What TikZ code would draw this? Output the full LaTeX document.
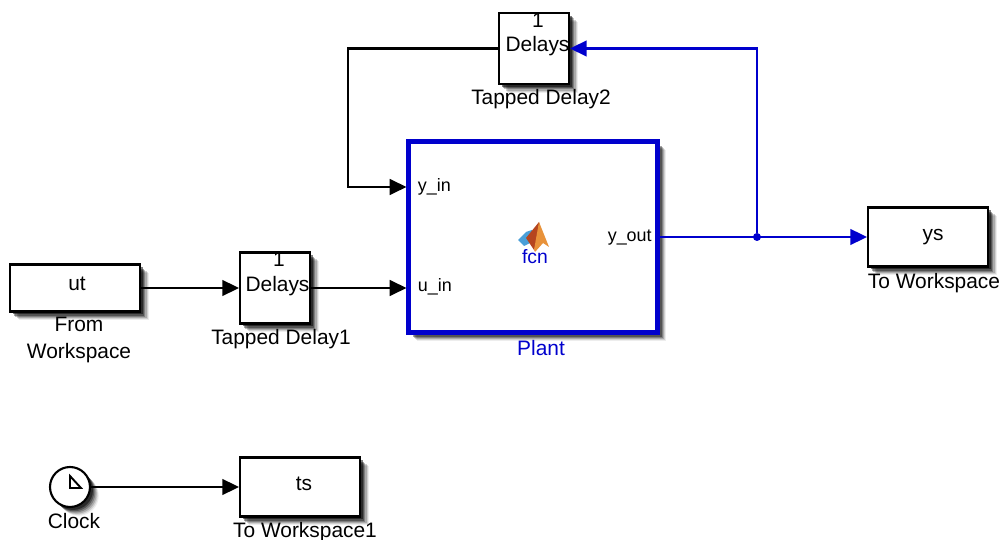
\documentclass[tikz,border=0pt]{standalone}
\usepackage{fontspec}
\setmainfont{Liberation Sans}
\usepackage{xcolor}
\usetikzlibrary{arrows.meta,shadows}
\definecolor{lineblue}{HTML}{0000CD}
\definecolor{logoblue}{HTML}{4A9FD8}
\definecolor{logored}{HTML}{B5451F}
\definecolor{logoorange}{HTML}{E8923A}
\tikzset{
  softshadow/.style={
    general shadow={shadow xshift=5pt,shadow yshift=-5pt,fill=black,opacity=.07},
    general shadow={shadow xshift=4.4pt,shadow yshift=-4.4pt,fill=black,opacity=.12},
    general shadow={shadow xshift=3.8pt,shadow yshift=-3.8pt,fill=black,opacity=.18},
    general shadow={shadow xshift=3.1pt,shadow yshift=-3.1pt,fill=black,opacity=.25},
    general shadow={shadow xshift=2.4pt,shadow yshift=-2.4pt,fill=black,opacity=.35},
    general shadow={shadow xshift=1.7pt,shadow yshift=-1.7pt,fill=black,opacity=.5}},
  block/.style={draw=black,fill=white,line width=1.2pt,inner sep=0pt,softshadow},
  txt/.style={inner sep=0pt,font=\fontsize{11.9}{15}\selectfont,align=center},
  porttxt/.style={inner sep=0pt,font=\fontsize{10.2}{12}\selectfont},
  wire/.style={line width=1.2pt,-{Triangle[length=9.5pt,width=9pt]}},
}
\begin{document}
\begin{tikzpicture}[x=0.02cm,y=-0.02cm]
\useasboundingbox (0,0) rectangle (1004,540);
% blocks
\node[block,minimum width=2.6cm,minimum height=0.94cm] (ut) at (75,288) {};
\node[block,minimum width=1.4cm,minimum height=1.42cm] (delayone) at (275,288) {};
\node[block,minimum width=1.4cm,minimum height=1.42cm] (delaytwo) at (534,48.5) {};
\node[block,draw=lineblue,line width=2.4pt,minimum width=4.98cm,minimum height=3.82cm] (plant) at (533,237) {};
\node[block,minimum width=2.4cm,minimum height=1.18cm] (ys) at (928,237) {};
\node[block,minimum width=2.4cm,minimum height=1.18cm] (ts) at (300,487) {};
\node[block,circle,minimum size=0.8cm] (clock) at (70,487) {};
% clock face
\draw[black,line width=1.1pt,line join=miter] (70,476)--(70,488)--(81,488)--cycle;
% texts in the blocks
\node[txt] (uttxt) at (77,284) {ut};
\node[txt] (onetxt) at (279,259) {1};
\node[txt] (delayonetxt) at (277.5,286) {Delays};
\node[txt] (twotxt) at (538,20) {1};
\node[txt] (delaytwotxt) at (537.5,46.5) {Delays};
\node[txt] (ystxt) at (933,237) {ys};
\node[txt] (tstxt) at (304,484) {ts};
\node[porttxt,anchor=west] (yin) at (417.5,187) {y\_in};
\node[porttxt,anchor=west] (uin) at (417.5,286.5) {u\_in};
\node[porttxt,anchor=east] (yout) at (652,237.5) {y\_out};
% logo
\fill[logoblue] (518,240)--(526,232)--(532,230)--(530,243)--(524,246)--cycle;
\fill[logored] (526,238)--(539,222)--(541,232)--(534,250)--cycle;
\fill[logoorange] (539,222)--(549,247)--(543,243)--(535,252)--(534,250)--cycle;
\node[txt,text=lineblue,font=\fontsize{11}{13}\selectfont] (fcn) at (535,257) {fcn};
% labels
\node[txt] (utlab) at (79,340) {From\\Workspace};
\node[txt] (onelab) at (281,339) {Tapped Delay1};
\node[txt] (twolab) at (541,99.5) {Tapped Delay2};
\node[txt,text=lineblue] (plantlab) at (541,348) {Plant};
\node[txt] (yslab) at (934,283.5) {To Workspace};
\node[txt] (tslab) at (305,532) {To Workspace1};
\node[txt] (clocklab) at (74,521.5) {Clock};
% connectors
\coordinate (plantu) at (plant.west |- 0,288);
\coordinate (planty) at (plant.west |- 0,187);
\node[circle,fill=lineblue,inner sep=0pt,minimum size=0.16cm] (junc) at (757,237) {};
\draw[wire] (ut.east)--(delayone.west);
\draw[wire] (delayone.east)--(plantu);
\draw[wire] (delaytwo.west)-|(348,187)--(planty);
\draw[wire,lineblue] (plant.east)--(ys.west);
\draw[wire,lineblue] (junc)|-(delaytwo.east);
\draw[wire] (clock.east)--(ts.west);
\end{tikzpicture}
\end{document}
